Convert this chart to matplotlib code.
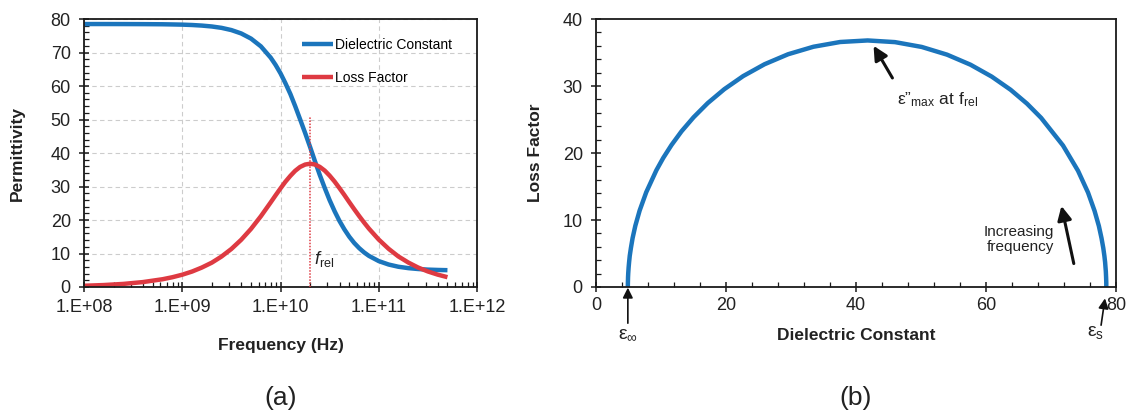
import numpy as np
import matplotlib
matplotlib.use('Agg')
import matplotlib.pyplot as plt
from matplotlib.ticker import LogLocator, MultipleLocator, FixedLocator, FuncFormatter, NullFormatter

plt.rcParams['font.family'] = ['Liberation Sans', 'DejaVu Sans']
plt.rcParams['mathtext.fontset'] = 'custom'
plt.rcParams['mathtext.rm'] = 'Liberation Sans'
plt.rcParams['mathtext.it'] = 'Liberation Sans:italic'
plt.rcParams['mathtext.bf'] = 'Liberation Sans:bold'

# --- Dados: relaxação dielétrica da água (Debye) ---
freq_hz = [1.0e8, 1.58e8, 2.51e8, 3.98e8, 6.31e8, 7.94e8, 1.0e9, 1.26e9, 1.58e9, 2.0e9,
           2.51e9, 3.16e9, 3.98e9, 5.01e9, 6.31e9, 7.94e9, 8.91e9, 1.0e10, 1.12e10, 1.26e10,
           1.41e10, 1.58e10, 1.78e10, 2.0e10, 2.24e10, 2.51e10, 2.82e10, 3.16e10, 3.55e10, 3.98e10,
           4.47e10, 5.01e10, 5.62e10, 6.31e10, 7.08e10, 7.94e10, 1.0e11, 1.26e11, 1.58e11, 2.0e11,
           2.51e11, 3.16e11, 3.98e11, 5.0e11]
dielectric = [78.50, 78.50, 78.49, 78.47, 78.43, 78.38, 78.32, 78.21, 78.04, 77.77,
              77.36, 76.70, 75.69, 74.15, 71.84, 68.47, 66.30, 63.78, 60.88, 57.61,
              54.00, 50.11, 46.00, 41.79, 37.57, 33.45, 29.55, 25.93, 22.64, 19.73,
              17.19, 15.01, 13.16, 11.62, 10.34, 9.29, 7.73, 6.71, 6.05, 5.63,
              5.37, 5.19, 5.09, 5.02]
loss = [0.37, 0.58, 0.92, 1.47, 2.32, 2.92, 3.67, 4.62, 5.80, 7.27,
        9.10, 11.35, 14.10, 17.35, 21.12, 25.25, 27.37, 29.44, 31.40, 33.18,
        34.68, 35.83, 36.55, 36.80, 36.57, 35.86, 34.74, 33.25, 31.48, 29.52,
        27.45, 25.33, 23.24, 21.20, 19.26, 17.43, 14.15, 11.40, 9.14, 7.30,
        5.82, 4.64, 3.69, 2.93]

# extensão em alta frequência para fechar o semicírculo (Cole-Cole)
tail_dielectric = [4.96, 4.93, 4.91, 4.90, 4.90]
tail_loss = [2.08, 1.47, 0.74, 0.29, 0.0]

EPS_S = 78.5      # permissividade estática
EPS_INF = 4.9     # permissividade em alta frequência
F_REL = 2.0e10    # frequência de relaxação (Hz)
F_REL_TOP = 50.7  # altura da linha pontilhada

BLUE = '#1b75bc'
RED = '#de3a42'
INK = '#1a1a1a'

cole_x = [EPS_S] + dielectric + tail_dielectric
cole_y = [0.0] + loss + tail_loss

fig = plt.figure(figsize=(11.32, 4.16), dpi=100)
ax1 = fig.add_axes([0.0742, 0.3101, 0.3472, 0.6442])
ax2 = fig.add_axes([0.5265, 0.3101, 0.4594, 0.6442])


def estilo_eixo(ax, xpad):
    for s in ax.spines.values():
        s.set_linewidth(1.3)
        s.set_color(INK)
    ax.tick_params(which='major', direction='inout', length=7, width=1.1, colors=INK,
                   labelsize=13, labelcolor='#222222')
    ax.tick_params(which='minor', direction='in', length=3.5, width=0.9, colors=INK)
    ax.tick_params(axis='x', which='major', pad=xpad)
    ax.tick_params(axis='y', which='major', pad=6)


# --- (a) permissividade vs frequência ---
ax1.set_xscale('log')
ax1.set_xlim(1e8, 1e12)
ax1.set_ylim(0, 80)
ax1.xaxis.set_major_locator(FixedLocator([1e8, 1e9, 1e10, 1e11, 1e12]))
ax1.xaxis.set_major_formatter(FuncFormatter(lambda v, p: '1.E+%02d' % int(round(np.log10(v)))))
ax1.xaxis.set_minor_locator(LogLocator(base=10, subs=np.arange(2, 10), numticks=20))
ax1.xaxis.set_minor_formatter(NullFormatter())
ax1.yaxis.set_major_locator(MultipleLocator(10))
ax1.yaxis.set_minor_locator(MultipleLocator(2))
ax1.grid(True, which='major', color='#cccccc', linestyle=(0, (4, 3)), linewidth=0.8)
ax1.set_axisbelow(True)
estilo_eixo(ax1, 5)

ax1.plot(freq_hz, dielectric, color=BLUE, lw=3.2, solid_capstyle='butt', label='Dielectric Constant')
ax1.plot(freq_hz, loss, color=RED, lw=3.2, solid_capstyle='butt', label='Loss Factor')
ax1.vlines(F_REL, 0, F_REL_TOP, colors=RED, linestyles=(0, (1, 1)), lw=1.1, zorder=3)
ax1.text(2.2e10, 8.3, r'$f_{\mathrm{rel}}$', fontsize=13, ha='left', va='center', color='#222222')

ax1.legend(loc='upper left', bbox_to_anchor=(0.555, 0.929), frameon=False, fontsize=10,
           borderpad=0, borderaxespad=0, handlelength=2.2, handletextpad=0.15, labelspacing=1.35)

ax1.set_xlabel('Frequency (Hz)', fontsize=12.5, fontweight='bold', color='#222222')
ax1.set_ylabel('Permittivity', fontsize=12.5, fontweight='bold', color='#222222')
ax1.xaxis.set_label_coords(0.5, -0.19)
ax1.yaxis.set_label_coords(-0.15, 0.5)

# --- (b) diagrama Cole-Cole ---
ax2.set_xlim(0, 80)
ax2.set_ylim(0, 40)
ax2.xaxis.set_major_locator(MultipleLocator(20))
ax2.xaxis.set_minor_locator(MultipleLocator(4))
ax2.yaxis.set_major_locator(MultipleLocator(10))
ax2.yaxis.set_minor_locator(MultipleLocator(2))
estilo_eixo(ax2, 4)

ax2.plot(cole_x, cole_y, color=BLUE, lw=3.2, solid_capstyle='butt', clip_on=False)

seta = dict(arrowstyle='-|>,head_length=0.6,head_width=0.3', lw=2.2, color='#111111',
            mutation_scale=14, shrinkA=0, shrinkB=0)
ax2.annotate('', xy=(42.7, 36.0), xytext=(45.6, 31.2), arrowprops=seta)
ax2.text(52.5, 28.0, 'ε\u201d$_{\\mathrm{max}}$ at f$_{\\mathrm{rel}}$', fontsize=12.5,
         ha='center', va='center', color='#222222')
ax2.annotate('', xy=(71.6, 12.1), xytext=(73.5, 3.5), arrowprops=seta)
ax2.text(70.4, 7.1, 'Increasing\nfrequency', fontsize=11, ha='right', va='center',
         multialignment='right', linespacing=1.15, color='#222222')

seta_fina = dict(arrowstyle='-|>,head_length=0.6,head_width=0.3', lw=1.2, color='#111111',
                 mutation_scale=10, shrinkA=0, shrinkB=0)
ax2.annotate('', xy=(EPS_INF, -0.1), xytext=(EPS_INF, -5.4), arrowprops=seta_fina,
             annotation_clip=False)
ax2.annotate('', xy=(78.3, -1.7), xytext=(77.7, -5.7), arrowprops=seta_fina,
             annotation_clip=False)
ax2.text(EPS_INF, -6.9, 'ε$_{\\mathrm{∞}}$', fontsize=14, ha='center', va='center',
         clip_on=False, color='#222222')
ax2.text(76.8, -6.8, 'ε$_{\\mathrm{s}}$', fontsize=14, ha='center', va='center',
         clip_on=False, color='#222222')

ax2.set_xlabel('Dielectric Constant', fontsize=12.5, fontweight='bold', color='#222222')
ax2.set_ylabel('Loss Factor', fontsize=12.5, fontweight='bold', color='#222222')
ax2.xaxis.set_label_coords(0.5, -0.153)
ax2.yaxis.set_label_coords(-0.102, 0.5)

fig.text(281 / 1132, 1 - 398 / 416, '(a)', fontsize=19, ha='center', va='center', color='#222222')
fig.text(856 / 1132, 1 - 398 / 416, '(b)', fontsize=19, ha='center', va='center', color='#222222')

fig.savefig('out.png', dpi=100)
